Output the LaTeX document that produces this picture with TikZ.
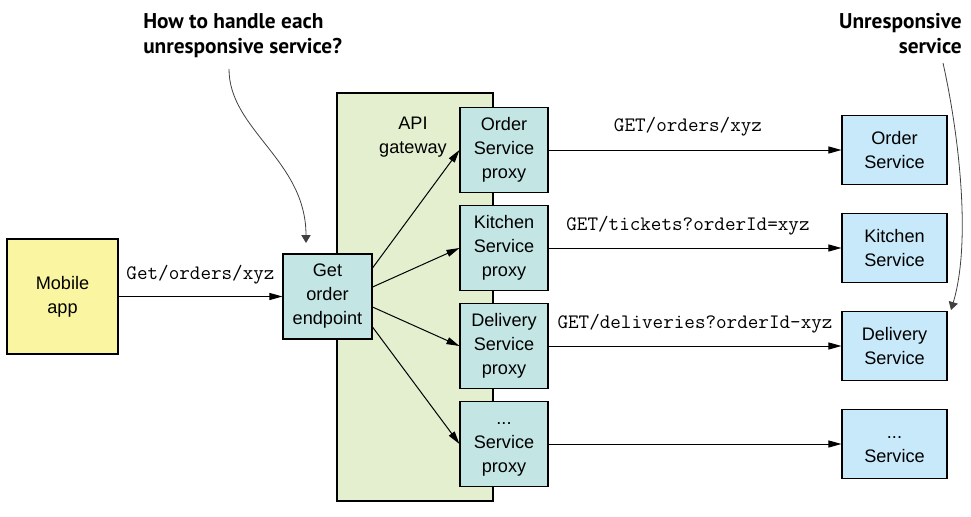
\documentclass[tikz,border=0pt]{standalone}
\usepackage{fontspec}
\setmainfont{Liberation Sans}
\newfontfamily\annfont{PT Sans}
\usetikzlibrary{arrows.meta,calc}
\definecolor{mobileY}{HTML}{FAF5A0}
\definecolor{tealC}{HTML}{C3E6E5}
\definecolor{gwG}{HTML}{E3EFCF}
\definecolor{svcB}{HTML}{C7E9F9}
\begin{document}
\begin{tikzpicture}[x=0.75pt,y=-0.75pt,
  box/.style={draw=black, line width=0.8pt, inner sep=0pt, align=center,
    font=\fontsize{13.6}{18}\selectfont},
  mobilebox/.style={box, fill=mobileY, minimum width=83.25pt, minimum height=86.25pt},
  endbox/.style={box, fill=tealC, minimum width=66.75pt, minimum height=63.75pt},
  gwbox/.style={draw=black, line width=0.8pt, fill=gwG, minimum width=117pt, minimum height=306pt, inner sep=0pt},
  proxybox/.style={box, fill=tealC, minimum width=66pt, minimum height=63.75pt},
  svcbox/.style={box, fill=svcB, minimum width=78.75pt, minimum height=52.1pt},
  lbl/.style={font=\fontsize{15.4}{18}\selectfont\ttfamily, inner sep=0pt, anchor=base},
  gwlbl/.style={font=\fontsize{13.6}{18}\selectfont, inner sep=0pt, align=center},
  ann/.style={font=\annfont\bfseries\fontsize{16}{18.75}\selectfont, inner sep=0pt},
  conn/.style={-{Triangle[length=9.75pt,width=5.25pt]}, line width=0.75pt},
  note/.style={-{Triangle[length=6pt,width=7pt]}, draw=black!75, line width=0.6pt}
]
\useasboundingbox (0,0) rectangle (971,517);

% gateway background
\node[gwbox] (gw) at (415,297) {};
\node[gwlbl] (gwl) at (413,137) {API\\gateway};

% left side
\node[mobilebox] (mobile) at (62.5,296.5) {Mobile\\app};
\node[endbox] (get) at (327.5,296.5) {Get\\order\\endpoint};

% proxies
\node[proxybox] (p1) at (504,150) {Order\\Service\\proxy};
\node[proxybox] (p2) at (504,248) {Kitchen\\Service\\proxy};
\node[proxybox] (p3) at (504,346) {Delivery\\Service\\proxy};
\node[proxybox] (p4) at (504,444) {\vphantom{O}...\\Service\\proxy};

% services
\node[svcbox] (s1) at (894.5,150) {Order\\Service};
\node[svcbox] (s2) at (894.5,248) {Kitchen\\Service};
\node[svcbox] (s3) at (894.5,346) {Delivery\\Service};
\node[svcbox] (s4) at (894.5,444) {\vphantom{O}...\\Service};

% connectors
\draw[conn] (mobile) -- (get);
\draw[conn] ([yshift=21.4pt]get.east) -- (p1.west);
\draw[conn] ([yshift=7.1pt]get.east) -- (p2.west);
\draw[conn] ([yshift=-7.9pt]get.east) -- (p3.west);
\draw[conn] ([yshift=-22.9pt]get.east) -- (p4.west);
\draw[conn] (p1) -- (s1);
\draw[conn] (p2) -- (s2);
\draw[conn] (p3) -- (s3);
\draw[conn] (p4) -- (s4);

% labels
\node[lbl] (l0) at (200.5,279) {Get/orders/xyz};
\node[lbl] (l1) at (688,132) {GET/orders/xyz};
\node[lbl] (l2) at (688,230) {GET/tickets?orderId=xyz};
\node[lbl] (l3) at (695,328) {GET/deliveries?orderId-xyz};

% annotations
\node[ann, anchor=north west, align=left] (q1) at (143,13) {How to handle each\\unresponsive service?};
\node[ann, anchor=north east, align=right] (q2) at (962,13) {Unresponsive\\service};
\coordinate (q1s) at (229,69);
\coordinate (q1e) at (306,243);
\coordinate (q2s) at (943,63);
\coordinate (q2e) at (951,310);
\draw[note] (q1s) .. controls (229,130) and (306,160) .. (q1e);
\draw[note] (q2s) .. controls (958,130) and (972,240) .. (q2e);
\end{tikzpicture}
\end{document}
